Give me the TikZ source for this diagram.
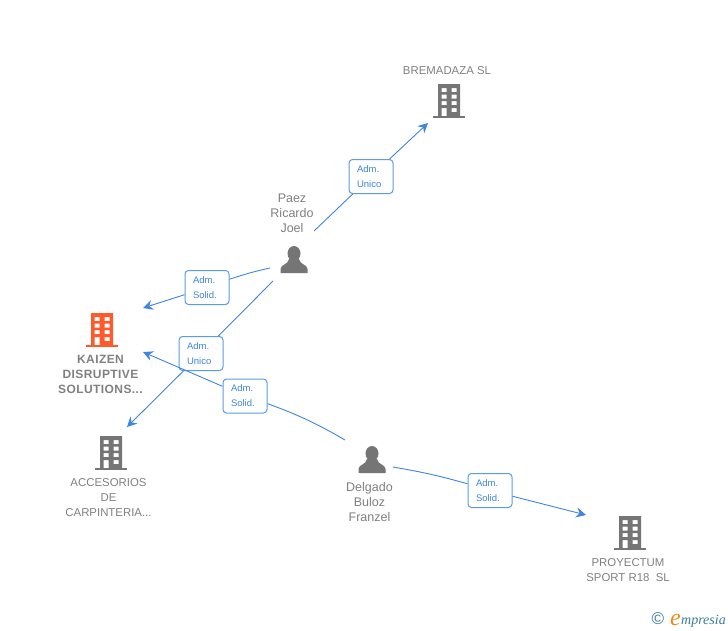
\documentclass[tikz,border=0pt]{standalone}
\usepackage{fontspec}
\setmainfont{Liberation Sans}
\newfontfamily\logofont{Liberation Serif}
\newfontfamily\kaizenfont[LetterSpace=3.5]{Liberation Sans}
\usetikzlibrary{arrows.meta}
\definecolor{linkblue}{HTML}{3D85E0}
\definecolor{boxblue}{HTML}{5B9BE8}
\definecolor{icongray}{HTML}{757575}
\definecolor{textgray}{HTML}{808080}
\definecolor{kaizenred}{HTML}{FF5A2B}
\definecolor{logoteal}{HTML}{3A7C93}
\definecolor{logoorange}{HTML}{F08A1D}
\tikzset{
  rolebox/.style={draw=boxblue, line width=1pt, fill=white, rounded corners=3.5pt, minimum width=44pt, minimum height=34pt,
    inner sep=0pt, align=left, text=linkblue, font=\fontsize{9.5}{15}\selectfont, text width=28pt},
  link/.style={draw=linkblue, line width=0.9pt},
  linkend/.style={link, -{Stealth[length=10pt,width=10pt,inset=3.5pt]}},
  nametext/.style={inner sep=0pt, align=center, text=textgray, font=\fontsize{12.5}{15}\selectfont},
  firmtext/.style={inner sep=0pt, align=center, text=textgray, font=\fontsize{11.4}{15}\selectfont},
  pics/firm/.style={code={
    \fill[#1, even odd rule] (-11,-16) rectangle (11,16)
      (-7.5,-12) rectangle (-2.5,-8) (2.5,-12) rectangle (7.5,-8)
      (-7.5,-5.5) rectangle (-2.5,-1.5) (2.5,-5.5) rectangle (7.5,-1.5)
      (-7.5,1) rectangle (-2.5,5) (2.5,1) rectangle (7.5,5)
      (-7.5,8) rectangle (-2.5,16) (2.5,8) rectangle (7.5,12);
    \fill[#1] (-16,15.5) rectangle (16,18);
  }},
  pics/person/.style={code={
    \fill[icongray] (0,-6.5) ellipse (6.5 and 7.5);
    \fill[icongray] (-13.5,13) -- (-13.5,9) .. controls (-13.5,4.5) and (-5.5,4.5) .. (-5,-1) -- (5,-1)
      .. controls (5.5,4.5) and (13.5,4.5) .. (13.5,9) -- (13.5,13) -- cycle;
  }}
}
\begin{document}
\begin{tikzpicture}[x=1pt,y=-1pt]
\useasboundingbox (0,0) rectangle (728,630);
% companies
\pic at (449,100) {firm=icongray};
\pic at (102,329) {firm=kaizenred};
\pic at (111,452) {firm=icongray};
\pic at (630,532) {firm=icongray};
\node[firmtext] (bremadaza) at (447,71) {BREMADAZA SL};
\node[firmtext, font=\fontsize{12}{15}\selectfont\bfseries\kaizenfont] (kaizen) at (100.5,374) {KAIZEN\\DISRUPTIVE\\SOLUTIONS...};
\node[firmtext] (accesorios) at (108.5,498) {ACCESORIOS\\DE\\CARPINTERIA...};
\node[firmtext] (proyectum) at (628,570.5) {PROYECTUM\\SPORT R18\ \ SL};
% people
\pic at (294,260) {person};
\pic at (372,460) {person};
\node[nametext] (paez) at (292,213.5) {Paez\\Ricardo\\Joel};
\node[nametext] (delgado) at (369.5,502.5) {Delgado\\Buloz\\Franzel};
% role boxes
\node[rolebox] (unicoa) at (371,176.5) {Adm.\\Unico};
\node[rolebox] (solida) at (207,287.5) {Adm.\\Solid.};
\node[rolebox] (unicob) at (201,353.5) {Adm.\\Unico};
\node[rolebox] (solidb) at (245,396) {Adm.\\Solid.};
\node[rolebox] (solidc) at (490,490.5) {Adm.\\Solid.};
% free ends
\coordinate (paezup) at (314,231);
\coordinate (bremin) at (428,123);
\coordinate (paezleft) at (270,268);
\coordinate (kaizenup) at (143,308);
\coordinate (paezdown) at (273,281);
\coordinate (accin) at (127,427);
\coordinate (delgadoup) at (345,440);
\coordinate (kaizendown) at (143,352);
\coordinate (delgadoright) at (393,467);
\coordinate (proyin) at (586,515);
% connectors
\draw[link] (paezup) -- (unicoa);
\draw[linkend] (unicoa) -- (bremin);
\draw[link] (paezleft) to[bend right=3] (solida);
\draw[linkend] (solida) -- (kaizenup);
\draw[link] (paezdown) -- (unicob);
\draw[linkend] (unicob) -- (accin);
\draw[link] (delgadoup) to[bend right=5] (solidb);
\draw[linkend] (solidb) -- (kaizendown);
\draw[link] (delgadoright) to[bend left=3] (solidc);
\draw[linkend] (solidc) -- (proyin);
% logo
\node[inner sep=0pt, text=logoteal, font=\fontsize{17}{17}\selectfont] (copyright) at (658,619) {\textcopyright};
\node[inner sep=0pt, anchor=base west, text=logoorange, font=\fontsize{24}{24}\selectfont\logofont\itshape] (logoe) at (670,625) {e};
\node[inner sep=0pt, anchor=base west, text=logoteal, font=\fontsize{14}{15}\selectfont\logofont\itshape] (logoname) at (681,624) {mpresia};
\end{tikzpicture}
\end{document}
